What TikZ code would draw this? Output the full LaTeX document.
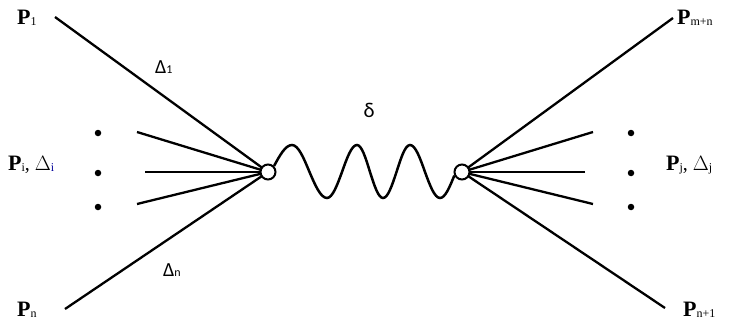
\documentclass[tikz,border=0pt]{standalone}
\usepackage{fontspec}
\setmainfont{Liberation Serif}
\newfontfamily\calfont{Carlito}
\newcommand{\Plab}[1]{{\fontsize{22}{22}\selectfont\bfseries P}{\fontsize{12}{12}\selectfont\raisebox{-1.5pt}{#1}}}
\begin{document}
\begin{tikzpicture}[x=1pt,y=-1pt,
  leg/.style={line width=2.3pt,black},
  vertex/.style={circle,draw,line width=2pt,fill=white,inner sep=0pt,minimum size=15pt},
  dotmark/.style={circle,fill=black,inner sep=0pt,minimum size=6.5pt},
  lab/.style={inner sep=0pt,anchor=base west},
  dlab/.style={inner sep=0pt,font=\calfont\fontsize{21}{21}\selectfont}]
\useasboundingbox (0,0) rectangle (729,324);
% vertex centres
\coordinate (cL) at (268,172);
\coordinate (cR) at (462,172);
% left leg end points
\coordinate (a1) at (55,17);
\coordinate (an) at (65,309);
\coordinate (ai1) at (137,132);
\coordinate (ai2) at (145,172);
\coordinate (ai3) at (137,204);
% right leg end points
\coordinate (b1) at (673,18);
\coordinate (bn) at (665,308);
\coordinate (bi1) at (593,132);
\coordinate (bi2) at (585,172);
\coordinate (bi3) at (593,204);
\foreach \p in {a1,an,ai1,ai2,ai3} \draw[leg] (\p) -- (cL);
\foreach \p in {b1,bn,bi1,bi2,bi3} \draw[leg] (\p) -- (cR);
\node[vertex] (vL) at (cL) {};
\node[vertex] (vR) at (cR) {};
% wavy propagator
\draw[leg,line width=2.5pt] (vL.45) sin (292,145) cos (309.5,172) sin (327,198) cos (342,172) sin (357,145) cos (370,172) sin (383,198) cos (396.5,172) sin (410,145) cos (425,172) sin (440,198) cos (vR.205);
% dots
\foreach \y [count=\k] in {133,173,207} {
  \node[dotmark] (dl\k) at (98,\y) {};
  \node[dotmark] (dr\k) at (631,\y) {};
}
% labels
\node[lab] (P1) at (17,24) {\Plab{1}};
\node[lab] (Pn) at (17,316) {\Plab{n}};
\node[lab] (Pm) at (677,24) {\Plab{m+n}};
\node[lab] (Pn1) at (683,316) {\Plab{n+1}};
\node[lab] (Pi) at (8,170) {\Plab{i}{\fontsize{20}{20}\selectfont, $\Delta$}{\fontsize{12}{12}\selectfont\raisebox{-1.5pt}{\color{blue!60!black}i}}};
\node[lab] (Pj) at (666,170) {\Plab{j}{\fontsize{20}{20}\selectfont, $\Delta$}{\fontsize{12}{12}\selectfont\raisebox{-1.5pt}{j}}};
\node[lab,font=\calfont\fontsize{20}{20}\selectfont] (D1) at (155,73) {Δ{\fontsize{12}{12}\selectfont 1}};
\node[lab,font=\calfont\fontsize{20}{20}\selectfont] (Dn) at (163,276) {Δ{\fontsize{12}{12}\selectfont n}};
\node[dlab] (del) at (369,110) {δ};
\end{tikzpicture}
\end{document}
